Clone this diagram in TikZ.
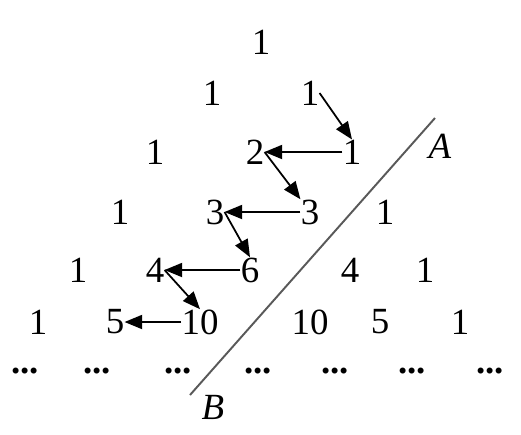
\documentclass[tikz,border=0pt]{standalone}
\usepackage{fontspec}
\setmainfont{Liberation Serif}
\usetikzlibrary{arrows.meta}

\begin{document}
\begin{tikzpicture}[
    x=0.02cm, y=-0.02cm,
    num/.style={font=\fontsize{21}{25}\selectfont, inner sep=0pt},
    arr/.style={-{Triangle[length=10pt, width=8pt]}, line width=1pt},
    cut/.style={draw=black!65, line width=1.1pt}
]
\useasboundingbox (0,0) rectangle (521,434);

% rows of the triangle
\node[num] (r00) at (261,42) {1};

\node[num] (r10) at (212,93) {1};
\node[num] (r11) at (310,93) {1};

\node[num] (r20) at (155,152) {1};
\node[num] (r21) at (255,152) {2};
\node[num] (r22) at (352,152) {1};

\node[num] (r30) at (120,212) {1};
\node[num] (r31) at (215,212) {3};
\node[num] (r32) at (310,212) {3};
\node[num] (r33) at (385,212) {1};

\node[num] (r40) at (78,270) {1};
\node[num] (r41) at (155,270) {4};
\node[num] (r42) at (250,270) {6};
\node[num] (r43) at (350,270) {4};
\node[num] (r44) at (425,270) {1};

\node[num] (r50) at (38,322) {1};
\node[num] (r51) at (115,322) {5};
\node[num] (r52) at (200,322) {10};
\node[num] (r53) at (310,322) {10};
\node[num] (r54) at (380,322) {5};
\node[num] (r55) at (460,322) {1};

\foreach \i/\x in {0/25,1/97,2/178,3/258,4/335,5/412,6/490}
  \node[num] (d\i) at (\x,371) {\textbf{...}};

% the cut line
\coordinate (ca) at (435,118);
\coordinate (cb) at (190,395);
\draw[cut] (ca) -- (cb);
\node[num, font=\fontsize{21}{25}\selectfont\itshape] (la) at (440,146) {A};
\node[num, font=\fontsize{21}{25}\selectfont\itshape] (lb) at (213,407) {B};

% zigzag of arrows
\draw[arr] (r11.east) -- (r22.north);
\draw[arr] (r22.west) -- (r21.east);
\draw[arr] (r21.east) -- (r32.north west);
\draw[arr] (r32.west) -- (r31.east);
\draw[arr] (r31.east) -- (r42.north);
\draw[arr] (r42.west) -- (r41.east);
\draw[arr] (r41.east) -- (r52.north);
\draw[arr] (r52.west) -- (r51.east);
\end{tikzpicture}
\end{document}
